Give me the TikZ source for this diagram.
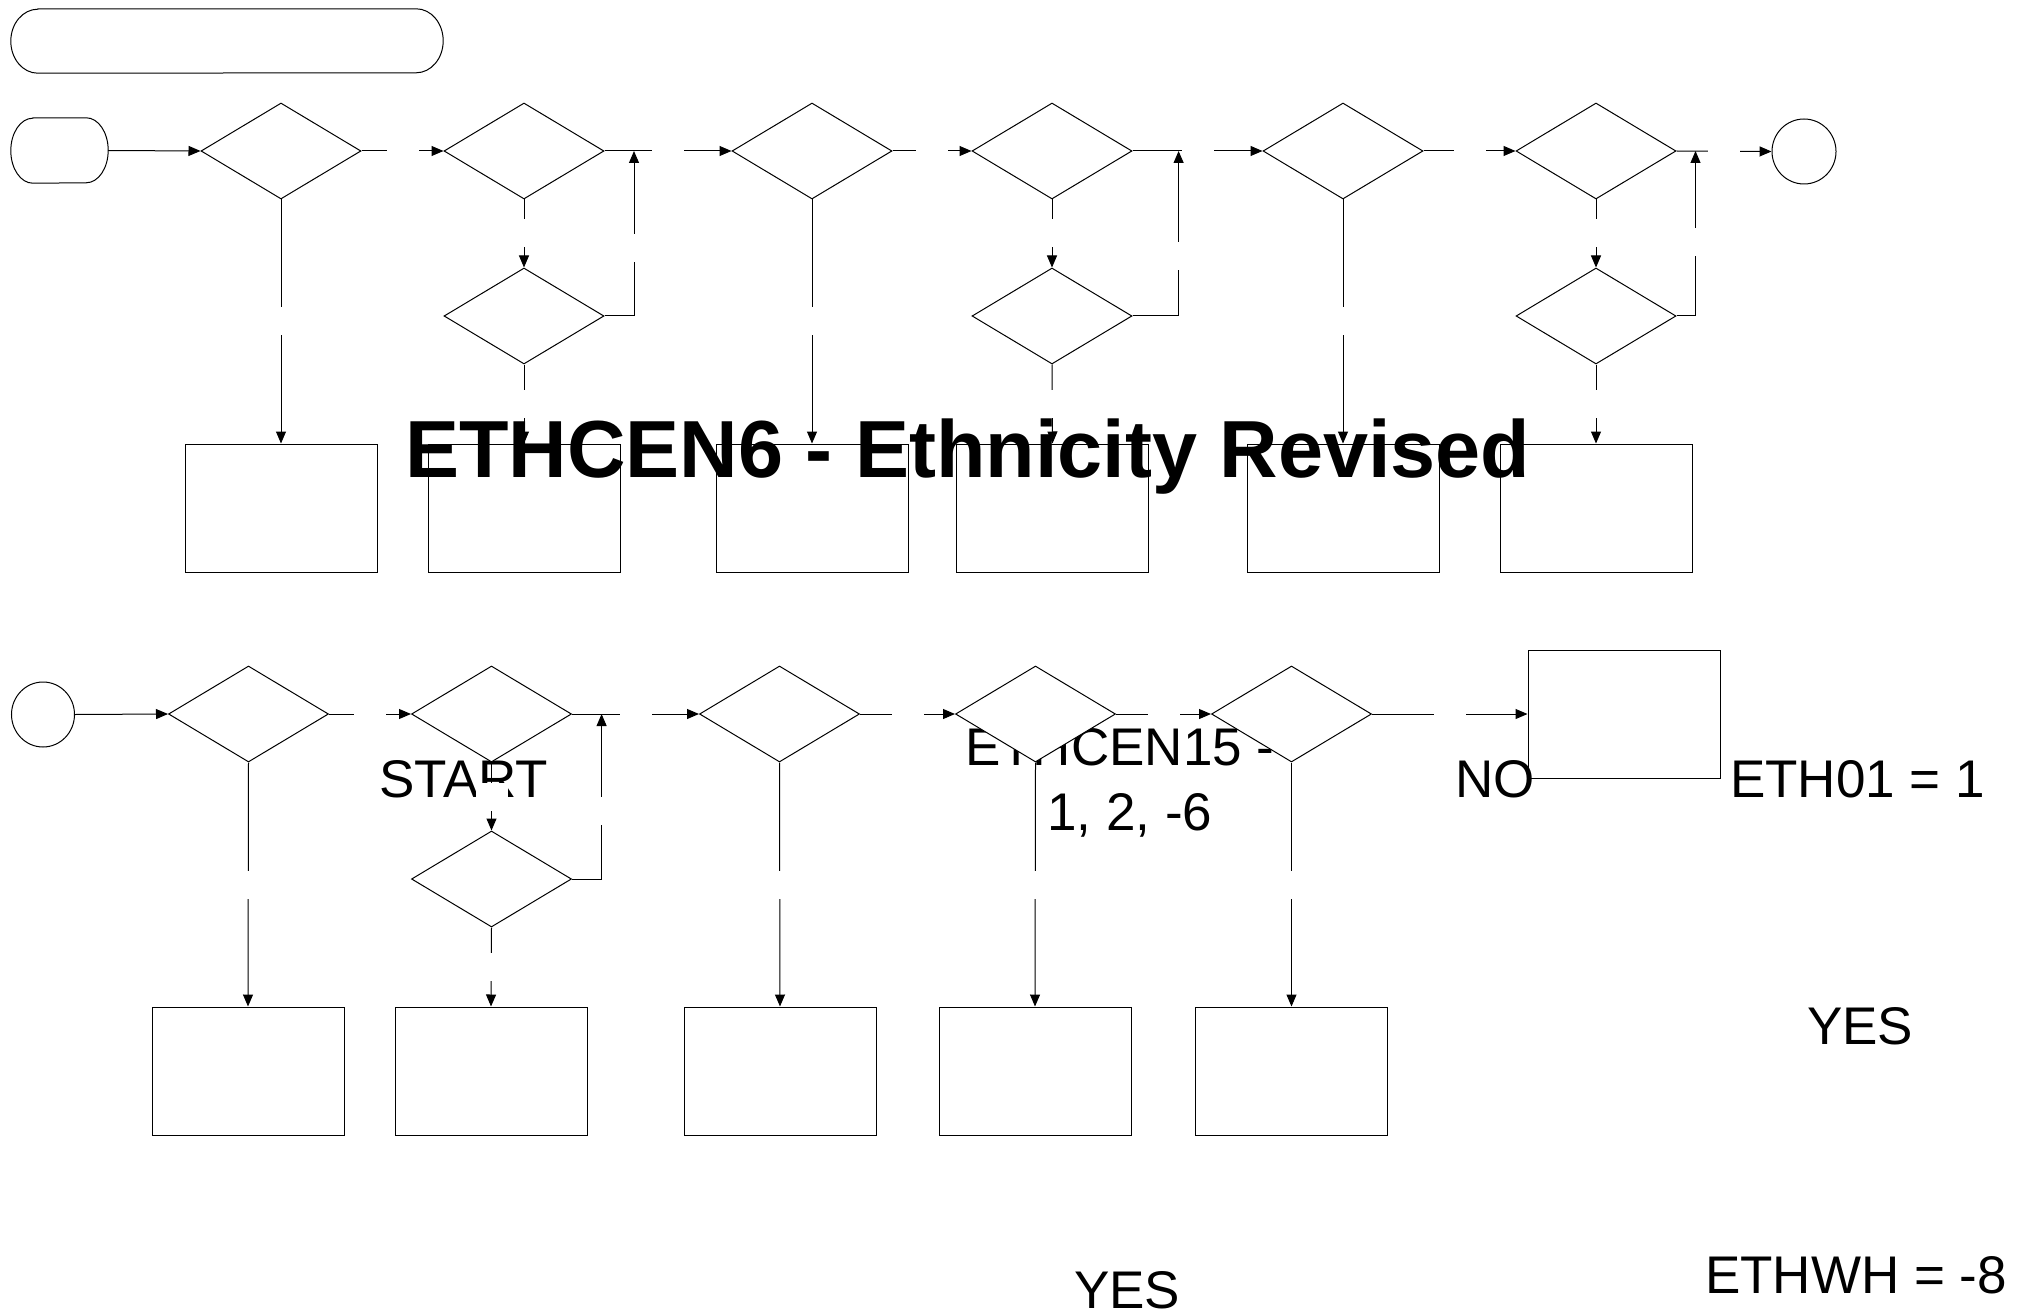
\documentclass[tikz,border=0pt]{standalone}
\usepackage{fontspec}
\setmainfont{Liberation Sans}
\usetikzlibrary{shapes.geometric,arrows.meta}
\tikzset{
  dia/.style={diamond, draw, fill=white, minimum width=160pt, minimum height=96pt, inner sep=0pt, line width=1pt},
  box/.style={rectangle, draw, fill=white, minimum width=192pt, minimum height=128pt, inner sep=0pt, line width=1pt},
  conn/.style={line width=1pt, -{Triangle[length=12pt,width=10pt]}},
  plain/.style={line width=1pt},
  gap/.style={fill=white, inner sep=0pt, minimum width=32pt, minimum height=28pt},
  txt/.style={anchor=base west, inner sep=0pt, font=\fontsize{53}{64}\selectfont},
  ttl/.style={anchor=base west, inner sep=0pt, font=\fontsize{81}{97}\selectfont\bfseries},
  term/.style={rectangle, inner sep=0pt},
  endc/.style={ellipse, draw, fill=white, inner sep=0pt, line width=1pt},
}
\begin{document}
\begin{tikzpicture}[x=1pt,y=-1pt]
\useasboundingbox (0,0) rectangle (2031,1313);
\fill[white] (0,0) rectangle (2031,1313);

% texts lying under shapes
\node[txt] (lstart) at (379,797) {START};
\node[txt] (leth15a) at (965,765) {ETHCEN15 -};
\node[txt] (leth15b) at (1047,830) {1, 2, -6};

% terminals
\node[term, minimum width=432pt, minimum height=64pt] (ban) at (227,41) {};
\draw[plain, fill=white] ([xshift=27pt]ban.north west) -- ([xshift=-27pt]ban.north east)
  arc[start angle=90, end angle=-90, x radius=27pt, y radius=32pt]
  -- ([xshift=27pt]ban.south west)
  arc[start angle=270, end angle=90, x radius=27pt, y radius=32pt] -- cycle;
\node[term, minimum width=97pt, minimum height=65pt] (st) at (59.5,150.5) {};
\draw[plain, fill=white] ([xshift=22pt]st.north west) -- ([xshift=-22pt]st.north east)
  arc[start angle=90, end angle=-90, x radius=22pt, y radius=32.5pt]
  -- ([xshift=22pt]st.south west)
  arc[start angle=270, end angle=90, x radius=22pt, y radius=32.5pt] -- cycle;
\node[endc, minimum width=64pt, minimum height=65pt] (en) at (1804,151.5) {};
\node[endc, minimum width=63pt, minimum height=65pt] (c2) at (43,714.5) {};

% row 1 diamonds
\node[dia] (D1) at (281,151) {};
\node[dia] (D2) at (524,151) {};
\node[dia] (D3) at (812,151) {};
\node[dia] (D4) at (1052,151) {};
\node[dia] (D5) at (1343,151) {};
\node[dia] (D6) at (1596,151) {};
\node[dia] (S2) at (524,316) {};
\node[dia] (S4) at (1052,316) {};
\node[dia] (S6) at (1596,316) {};
% row 1 boxes
\node[box] (R1) at (281,508) {};
\node[box] (R2) at (524,508) {};
\node[box] (R3) at (812,508) {};
\node[box] (R4) at (1052.5,508) {};
\node[box] (R5) at (1343,508) {};
\node[box] (R6) at (1596,508) {};

% row 2 diamonds
\node[dia] (B1) at (248.5,714) {};
\node[dia] (B2) at (491.5,714) {};
\node[dia] (B3) at (779.5,714) {};
\node[dia] (B4) at (1035.5,714) {};
\node[dia] (B5) at (1291.5,714) {};
\node[dia] (T2) at (491.5,879) {};
% row 2 boxes
\node[box] (Q1) at (248,1071) {};
\node[box] (Q2) at (491,1071) {};
\node[box] (Q3) at (780,1071) {};
\node[box] (Q4) at (1035,1071) {};
\node[box] (Q5) at (1291.5,1071) {};
\node[box] (NB) at (1624,714) {};

% junction coordinates of loop-backs
\coordinate (j2) at (634,151);
\coordinate (j4) at (1178.6,151);
\coordinate (j6) at (1695.5,151);
\coordinate (k2) at (601.6,714);

% row 1 connectors
\draw[conn] (st.east) -- (D1.west);
\draw[conn] (D1.east) -- node[gap]{} (D2.west);
\draw[conn] (D2.east) -- node[gap]{} (D3.west);
\draw[conn] (D3.east) -- node[gap]{} (D4.west);
\draw[conn] (D4.east) -- node[gap]{} (D5.west);
\draw[conn] (D5.east) -- node[gap]{} (D6.west);
\draw[conn] (D6.east) -- node[gap]{} (en.west);
\draw[conn] (D1.south) -- node[gap]{} (R1.north);
\draw[conn] (D3.south) -- node[gap]{} (R3.north);
\draw[conn] (D5.south) -- node[gap]{} (R5.north);
\draw[conn] (D2.south) -- node[gap]{} (S2.north);
\draw[conn] (D4.south) -- node[gap]{} (S4.north);
\draw[conn] (D6.south) -- node[gap]{} (S6.north);
\draw[conn] (S2.south) -- node[gap]{} (R2.north);
\draw[conn] (S4.south) -- node[gap]{} (R4.north);
\draw[conn] (S6.south) -- node[gap]{} (R6.north);
\draw[conn] (S2.east) -| (j2);
\draw[conn] (S4.east) -| (j4);
\draw[conn] (S6.east) -| (j6);
\node[gap] (g2) at (634,248.5) {};
\node[gap] (g4) at (1178.6,256) {};
\node[gap] (g6) at (1695.5,242) {};

% row 2 connectors
\draw[conn] (c2.east) -- (B1.west);
\draw[conn] (B1.east) -- node[gap]{} (B2.west);
\draw[conn] (B2.east) -- node[gap]{} (B3.west);
\draw[conn] (B3.east) -- node[gap]{} (B4.west);
\draw[conn] (B4.east) -- node[gap]{} (B5.west);
\draw[conn] (B5.east) -- node[gap]{} (NB.west);
\draw[conn] (B1.south) -- node[gap]{} (Q1.north);
\draw[conn] (B3.south) -- node[gap]{} (Q3.north);
\draw[conn] (B4.south) -- node[gap]{} (Q4.north);
\draw[conn] (B5.south) -- node[gap]{} (Q5.north);
\draw[conn] (B2.south) -- node[gap]{} (T2.north);
\draw[conn] (T2.south) -- node[gap]{} (Q2.north);
\draw[conn] (T2.east) -| (k2);
\node[gap] (h2) at (601.6,811) {};

% texts on top
\node[ttl] (title) at (405,477) {ETHCEN6 - Ethnicity Revised};
\node[txt] (lno) at (1455,797) {NO};
\node[txt] (leth01) at (1730,797) {ETH01 = 1};
\node[txt] (lyes1) at (1807,1044) {YES};
\node[txt] (lyes2) at (1074,1308) {YES};
\node[txt] (lethwh) at (1705,1293) {ETHWH = -8};
\end{tikzpicture}
\end{document}
